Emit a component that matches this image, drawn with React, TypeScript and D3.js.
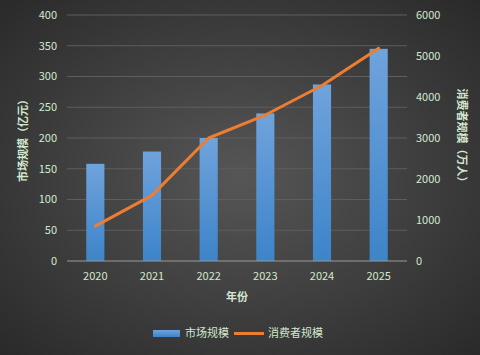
import React from "react";
import * as d3 from "d3";

const years = ["2020", "2021", "2022", "2023", "2024", "2025"];
const marketSize = [158, 178, 200, 240, 287, 345];
const consumers = [850, 1600, 3000, 3560, 4280, 5190];
const leftTicks = [0, 50, 100, 150, 200, 250, 300, 350, 400];
const rightTicks = [0, 1000, 2000, 3000, 4000, 5000, 6000];

const W = 480, H = 355;
const M = { left: 67, right: 407, top: 15, bottom: 261 };
const txt = "#d4e8cf";
const font = "'Noto Sans CJK SC', 'Noto Sans', sans-serif";

export default function App() {
  const x = d3.scaleBand<string>().domain(years).range([M.left, M.right]).paddingInner(0.68).paddingOuter(0.34);
  const yL = d3.scaleLinear().domain([0, 400]).range([M.bottom, M.top]);
  const yR = d3.scaleLinear().domain([0, 6000]).range([M.bottom, M.top]);
  const line = d3.line<number>()
    .x((_, i) => (x(years[i]) as number) + x.bandwidth() / 2)
    .y((d) => yR(d));
  return (
    <svg width={W} height={H} style={{ position: "absolute", left: 0, top: 0 }} fontFamily={font}>
      <defs>
        <radialGradient id="bg" cx="50%" cy="50%" r="70%">
          <stop offset="0%" stopColor="#565656" />
          <stop offset="100%" stopColor="#2a2a2a" />
        </radialGradient>
        <linearGradient id="bar" x1="0" y1="0" x2="0" y2="1">
          <stop offset="0%" stopColor="#6fa3dc" />
          <stop offset="100%" stopColor="#3d84c9" />
        </linearGradient>
      </defs>
      <rect x={0} y={0} width={W} height={H} fill="url(#bg)" />
      {leftTicks.map((t) => (
        <g key={t}>
          {t > 0 && <line x1={M.left} x2={M.right} y1={yL(t)} y2={yL(t)} stroke="#5e5e5e" strokeWidth={1} />}
          <text x={57} y={yL(t)} dy="0.35em" textAnchor="end" fontSize={11} fill={txt}>{t}</text>
        </g>
      ))}
      {rightTicks.map((t) => (
        <text key={t} x={416} y={yR(t)} dy="0.35em" textAnchor="start" fontSize={11} fill={txt}>{t}</text>
      ))}
      {years.map((yr, i) => (
        <rect key={yr} x={x(yr)} y={yL(marketSize[i])} width={x.bandwidth()} height={M.bottom - yL(marketSize[i])} fill="url(#bar)" />
      ))}
      <line x1={M.left} x2={M.right} y1={M.bottom} y2={M.bottom} stroke="#9a9a9a" strokeWidth={1} />
      <path d={line(consumers) || ""} fill="none" stroke="#ED7D31" strokeWidth={3} strokeLinejoin="round" strokeLinecap="round" />
      {years.map((yr) => (
        <text key={yr} x={(x(yr) as number) + x.bandwidth() / 2} y={276} dy="0.35em" textAnchor="middle" fontSize={11} fill={txt}>{yr}</text>
      ))}
      <text x={237} y={297} dy="0.35em" textAnchor="middle" fontSize={11} fontWeight="bold" fill={txt}>年份</text>
      <text transform={`translate(23,${(M.top + M.bottom) / 2}) rotate(-90)`} textAnchor="middle" dy="0.35em" fontSize={11} fontWeight="bold" fill={txt}>市场规模（亿元）</text>
      <text transform={`translate(462,${(M.top + M.bottom) / 2}) rotate(90)`} textAnchor="middle" dy="0.35em" fontSize={11} fontWeight="bold" fill={txt}>消费者规模（万人）</text>
      <rect x={153} y={330} width={27} height={7} fill="url(#bar)" />
      <text x={185} y={333} dy="0.35em" fontSize={11} fill={txt}>市场规模</text>
      <line x1={234} x2={264} y1={333.5} y2={333.5} stroke="#ED7D31" strokeWidth={3} />
      <text x={268} y={333} dy="0.35em" fontSize={11} fill={txt}>消费者规模</text>
    </svg>
  );
}
